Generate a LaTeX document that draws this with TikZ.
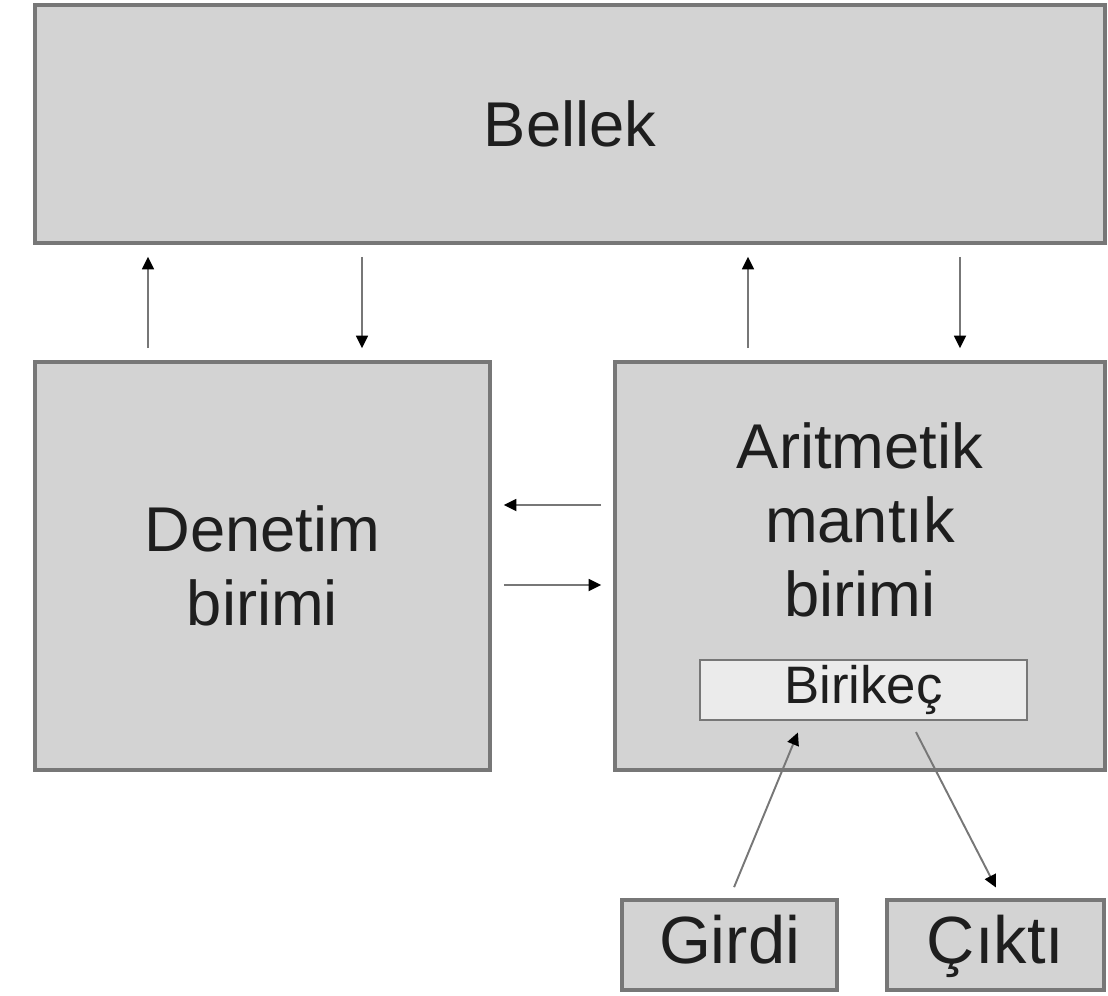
\documentclass[tikz,border=0pt]{standalone}
\usepackage{fontspec}
\setmainfont{Liberation Sans}
\usetikzlibrary{arrows.meta}
\definecolor{boxgray}{HTML}{D3D3D3}
\definecolor{edgegray}{HTML}{777777}
\definecolor{regfill}{HTML}{EBEBEB}
\definecolor{inkgray}{HTML}{1E1E1E}
\begin{document}
\begin{tikzpicture}[x=1mm, y=-1mm]
            \tikzset{unit/.style={draw=edgegray, fill=boxgray, line width=1pt, inner sep=0pt,
                        text=inkgray, font=\fontsize{18}{21}\selectfont, align=center},
                     port/.style={unit, minimum height=9mm, text height=1.03em, text depth=0pt,
                        font=\fontsize{19}{22}\selectfont},
                     link/.style={draw=edgegray, line width=0.55pt, shorten <=1.2mm, shorten >=1.2mm,
                        -{Triangle[color=black, length=3.6pt, width=3.4pt]}}}
            \useasboundingbox (0,0) rectangle (110.8,99.6);
            % main units
            \node[unit, minimum width=107mm, minimum height=23.8mm] (bellek) at (57,12.4) {Bellek};
            \node[unit, minimum width=45.5mm, minimum height=40.8mm] (den) at (26.25,56.6) {Denetim\\birimi};
            \node[unit, minimum width=49mm, minimum height=40.8mm] (alu) at (86,56.6) {};
            \node[text=inkgray, font=\fontsize{18}{21}\selectfont, align=center] (alutext) at (86,52) {Aritmetik\\mantık\\birimi};
            \node[unit, fill=regfill, line width=0.8pt, minimum width=32.7mm, minimum height=6mm,
                  font=\fontsize{15}{18}\selectfont] (bir) at (86.35,69) {Birikeç};
            \node[port, minimum width=21.5mm] (girdi) at (72.95,94.5) {Girdi};
            \node[port, minimum width=21.7mm] (cikti) at (99.55,94.5) {Çıktı};
            % columns of the vertical links
            \coordinate (c1) at (14.8,0);
            \coordinate (c2) at (36.2,0);
            \coordinate (c3) at (74.8,0);
            \coordinate (c4) at (96,0);
            \coordinate (r1) at (0,50.5);
            \coordinate (r2) at (0,58.5);
            \draw[link] (den.north -| c1) -- (bellek.south -| c1);
            \draw[link] (bellek.south -| c2) -- (den.north -| c2);
            \draw[link] (alu.north -| c3) -- (bellek.south -| c3);
            \draw[link] (bellek.south -| c4) -- (alu.north -| c4);
            \draw[link] (alu.west |- r1) -- (den.east |- r1);
            \draw[link] (den.east |- r2) -- (alu.west |- r2);
            \draw[link] (girdi.north) -- ([xshift=-6.1mm]bir.south);
            \draw[link] ([xshift=4.7mm]bir.south) -- ([xshift=0.6mm]cikti.north);
        \end{tikzpicture}
\end{document}
